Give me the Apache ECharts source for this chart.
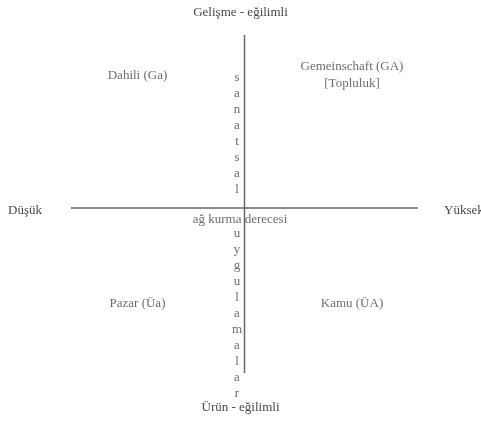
<!DOCTYPE html>
<html>
<head>
<meta charset="utf-8">
<script src="https://cdn.jsdelivr.net/npm/echarts@6/dist/echarts.min.js"></script>
<style>html,body{margin:0;padding:0;background:#fff;}#c{width:481px;height:423px;}</style>
</head>
<body>
<div id="c"></div>
<script>
// Axis extents (data units, crossing at 0,0)
var xRange = [-173.5, 173.5];
var yRange = [-165, 173];
var horizontalLine = [[-173.5, 0], [173.5, 0]];
var verticalLine = [[0, -165], [0, 173]];

// Quadrant labels: [x, y, text]
var quadrantLabels = [
  [-107, 132, 'Dahili (Ga)'],
  [107.5, 133, 'Gemeinschaft (GA)\n[Topluluk]'],
  [-107, -96, 'Pazar (Üa)'],
  [107.5, -96, 'Kamu (ÜA)']
];
// Axis annotation texts
var axisTexts = [
  [-4.5, -12, 'ağ kurma derecesi'],
  [-7.5, 74, 's\na\nn\na\nt\ns\na\nl'],
  [-7.5, -106, 'u\ny\ng\nu\nl\na\nm\na\nl\na\nr']
];
var poleTop = 'Gelişme - eğilimli';
var poleBottom = 'Ürün - eğilimli';
var poleLeft = 'Düşük';
var poleRight = 'Yüksek';

var font = '"Liberation Serif", "Times New Roman", serif';
var txtColor = '#474747';
var lineColor = '#666';

var chart = echarts.init(document.getElementById('c'), null, {renderer: 'canvas'});
chart.setOption({
  animation: false,
  backgroundColor: '#fff',
  grid: {left: 71, right: 63, top: 35, bottom: 50},
  xAxis: {type: 'value', min: xRange[0], max: xRange[1], show: false},
  yAxis: {type: 'value', min: yRange[0], max: yRange[1], show: false},
  graphic: [
    {type: 'text', left: 'center', top: 6, style: {text: poleTop, font: '13px ' + font, fill: txtColor}},
    {type: 'text', left: 'center', top: 401, style: {text: poleBottom, font: '13px ' + font, fill: txtColor}},
    {type: 'text', left: 8, top: 204, style: {text: poleLeft, font: '13px ' + font, fill: txtColor}},
    {type: 'text', left: 444, top: 204, style: {text: poleRight, font: '13px ' + font, fill: txtColor}}
  ],
  series: [
    {type: 'line', data: horizontalLine, symbol: 'none', lineStyle: {color: lineColor, width: 1.5}, silent: true},
    {type: 'line', data: verticalLine, symbol: 'none', lineStyle: {color: lineColor, width: 1.5}, silent: true},
    {
      type: 'scatter', symbolSize: 0, clip: false, silent: true,
      data: quadrantLabels.map(function (d) { return {value: [d[0], d[1]], name: d[2]}; }),
      label: {show: true, position: 'inside', formatter: '{b}', fontFamily: font, fontSize: 13, color: txtColor, lineHeight: 17, align: 'center'}
    },
    {
      type: 'scatter', symbolSize: 0, clip: false, silent: true,
      data: axisTexts.map(function (d) { return {value: [d[0], d[1]], name: d[2]}; }),
      label: {show: true, position: 'inside', formatter: '{b}', fontFamily: font, fontSize: 13, color: txtColor, lineHeight: 16, align: 'center'}
    }
  ]
});
</script>
</body>
</html>
